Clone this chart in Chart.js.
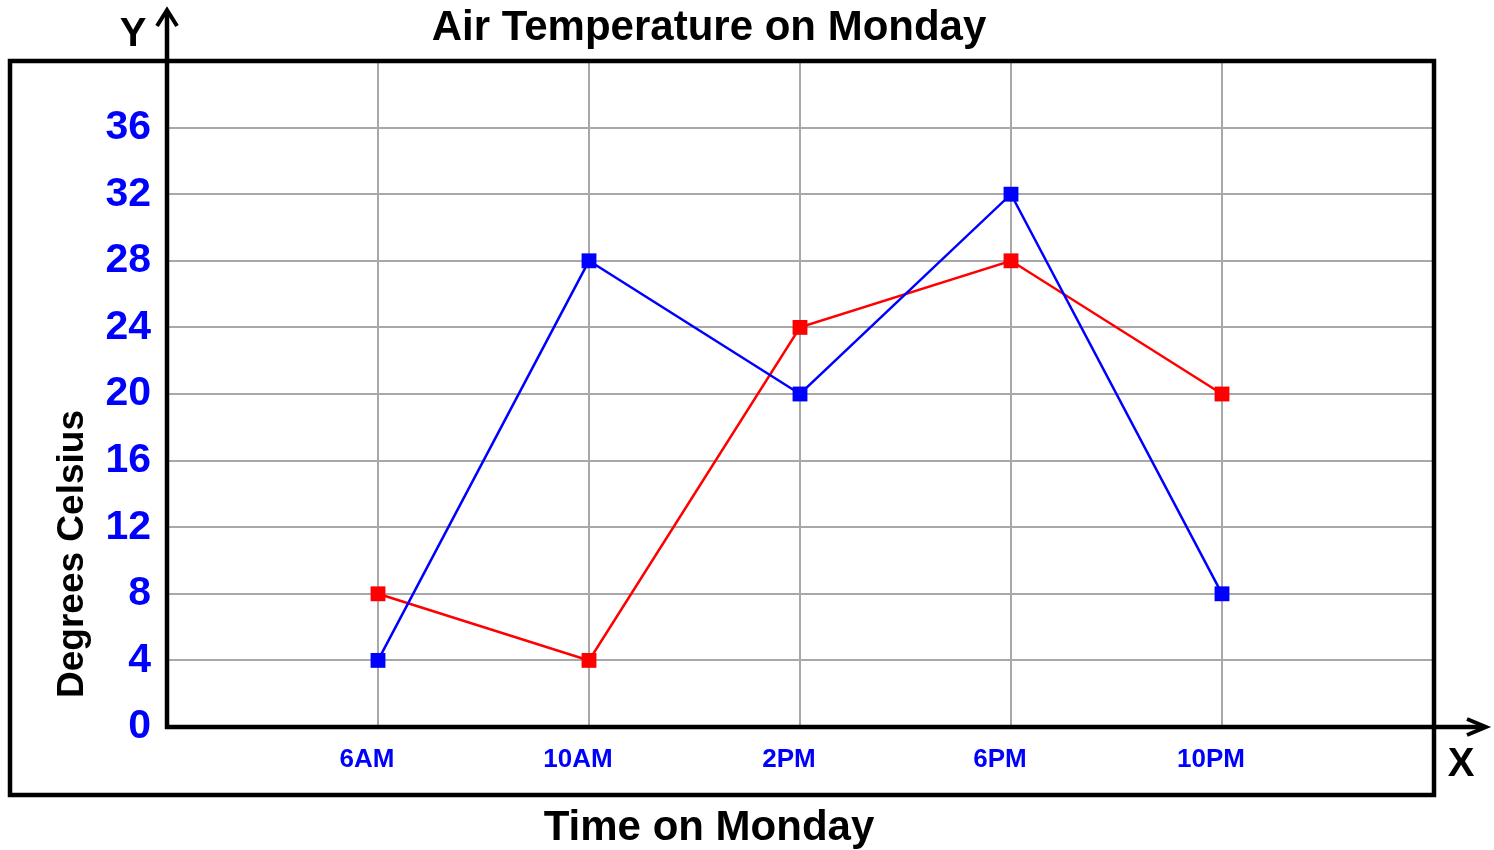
<!DOCTYPE html>
<html>
<head>
<meta charset="utf-8">
<script src="https://cdn.jsdelivr.net/npm/chart.js@4/dist/chart.umd.min.js"></script>
<style>
  html, body { margin: 0; padding: 0; background: #ffffff; }
  #wrap { width: 1494px; height: 850px; position: relative; }
</style>
</head>
<body>
<div id="wrap"><canvas id="c" width="1494" height="850"></canvas></div>
<script>
const categories = ['6AM', '10AM', '2PM', '6PM', '10PM'];
const blueSeries = [4, 28, 20, 32, 8];
const redSeries = [8, 4, 24, 28, 20];
const yTicks = [0, 4, 8, 12, 16, 20, 24, 28, 32, 36];

const chartTitle = 'Air Temperature on Monday';
const xTitle = 'Time on Monday';
const yTitle = 'Degrees Celsius';

const FONT = '"Liberation Sans", Arial, Helvetica, sans-serif';

function toPoints(arr) { return arr.map((v, i) => ({ x: i, y: v })); }

const decor = {
  id: 'decor',
  afterDraw(chart) {
    const ctx = chart.ctx;
    const xs = chart.scales.x, ys = chart.scales.y;
    const ox = xs.getPixelForValue(-1);
    const oy = ys.getPixelForValue(0);
    ctx.save();
    // outer box
    ctx.strokeStyle = '#000';
    ctx.lineWidth = 4.5;
    ctx.strokeRect(10, 61, 1424, 734);
    // axes
    ctx.lineWidth = 4.5;
    ctx.lineCap = 'butt';
    ctx.beginPath();
    ctx.moveTo(ox, oy + 2);
    ctx.lineTo(ox, 12);
    ctx.moveTo(ox - 2, oy);
    ctx.lineTo(1484, oy);
    ctx.stroke();
    ctx.lineWidth = 4;
    ctx.lineJoin = 'miter';
    ctx.beginPath();
    ctx.moveTo(ox - 10, 26);
    ctx.lineTo(ox, 10);
    ctx.lineTo(ox + 10, 26);
    ctx.stroke();
    ctx.beginPath();
    ctx.moveTo(1467, oy - 8);
    ctx.lineTo(1486, oy);
    ctx.lineTo(1467, oy + 8);
    ctx.stroke();
    // texts
    ctx.fillStyle = '#000';
    ctx.textAlign = 'center';
    ctx.textBaseline = 'alphabetic';
    ctx.font = 'bold 42px ' + FONT;
    ctx.fillText(chartTitle, 709, 40);
    ctx.fillText(xTitle, 709, 840);
    ctx.font = 'bold 40px ' + FONT;
    ctx.fillText('Y', 133, 46);
    ctx.fillText('X', 1461, 776);
    ctx.save();
    ctx.translate(83, 554);
    ctx.rotate(-Math.PI / 2);
    ctx.font = 'bold 37px ' + FONT;
    ctx.fillText(yTitle, 0, 0);
    ctx.restore();
    ctx.restore();
  }
};

new Chart(document.getElementById('c'), {
  type: 'line',
  data: {
    datasets: [
      {
        label: 'Series B',
        data: toPoints(blueSeries),
        borderColor: '#0000ff',
        backgroundColor: '#0000ff',
        borderWidth: 2.5,
        pointStyle: 'rect',
        pointRadius: 10.5,
        pointBorderWidth: 0,
        pointHoverRadius: 10.5,
        tension: 0,
        clip: false
      },
      {
        label: 'Series A',
        data: toPoints(redSeries),
        borderColor: '#ff0000',
        backgroundColor: '#ff0000',
        borderWidth: 2.5,
        pointStyle: 'rect',
        pointRadius: 10.5,
        pointBorderWidth: 0,
        pointHoverRadius: 10.5,
        tension: 0,
        clip: false
      }
    ]
  },
  options: {
    responsive: false,
    animation: false,
    devicePixelRatio: 1,
    events: [],
    layout: { padding: { top: 61, right: 61, left: 0, bottom: 0 } },
    plugins: {
      legend: { display: false },
      tooltip: { enabled: false },
      title: { display: false }
    },
    scales: {
      x: {
        type: 'linear',
        min: -1,
        max: 5,
        afterBuildTicks(scale) {
          scale.ticks = [-1, 0, 1, 2, 3, 4, 5].map(v => ({ value: v }));
        },
        afterFit(scale) { scale.height = 123; },
        border: { display: false },
        grid: { color: '#a8a8a8', lineWidth: 2, drawTicks: false },
        ticks: {
          autoSkip: false,
          maxRotation: 0,
          labelOffset: -11,
          padding: 17,
          color: '#0000ff',
          font: { family: FONT, size: 26, weight: 'bold' },
          callback: (v) => categories[v] !== undefined ? categories[v] : ''
        }
      },
      y: {
        min: 0,
        max: 40,
        afterBuildTicks(scale) {
          scale.ticks = yTicks.concat([40]).map(v => ({ value: v }));
        },
        afterFit(scale) { scale.width = 167; },
        border: { display: false },
        grid: { color: '#a8a8a8', lineWidth: 2, drawTicks: false },
        ticks: {
          padding: 16,
          color: '#0000ff',
          font: { family: FONT, size: 41, weight: 'bold' },
          callback: (v) => yTicks.includes(v) ? String(v) : ''
        }
      }
    }
  },
  plugins: [decor]
});
</script>
</body>
</html>
